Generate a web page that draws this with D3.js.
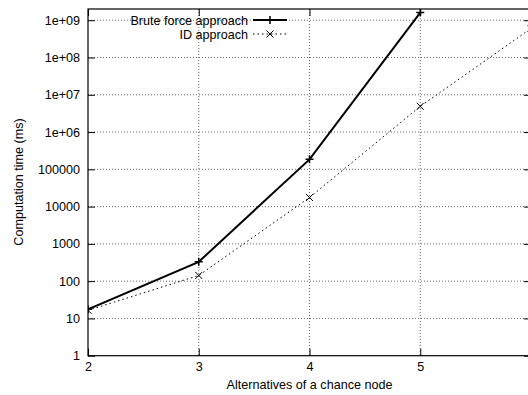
<!DOCTYPE html>
<html><head><meta charset="utf-8">
<script src="https://cdn.jsdelivr.net/npm/d3@7"></script>
<style>body{margin:0;background:#fff}svg{display:block}text{font-family:"Liberation Sans",Arial,sans-serif;fill:#000}</style>
</head><body><svg id="c" width="528" height="395"></svg>
<script>
const xValues = [2, 3, 4, 5, 6];
const bruteForce = [17.5, 330, 185000, 1.6e9, null];
const idApproach = [16.5, 142, 17500, 4.9e6, 6.0e8];
const yTickValues = [1, 10, 100, 1000, 10000, 100000, 1e6, 1e7, 1e8, 1e9];
const yTickLabels = ["1", "10", "100", "1000", "10000", "100000", "1e+06", "1e+07", "1e+08", "1e+09"];
const xTickValues = [2, 3, 4, 5];
const seriesNames = ["Brute force approach", "ID approach"];

const FS = 12.6;
const svg = d3.select("#c");
const L = 88, R = 531, T = 9, B = 355.7;
const x = d3.scaleLinear().domain([2, 6]).range([L, R]);
const y = d3.scaleLog().domain([1, 2e9]).range([B, T]);

svg.append("clipPath").attr("id","clip").append("rect").attr("x",L).attr("y",T).attr("width",R-L).attr("height",B-T);

// grid
const g = svg.append("g").attr("stroke","#444").attr("stroke-width",0.8).attr("stroke-dasharray","1,2");
yTickValues.slice(1).forEach(v => g.append("line").attr("x1",L).attr("x2",R).attr("y1",y(v)).attr("y2",y(v)));
xTickValues.slice(1).forEach(v => g.append("line").attr("x1",x(v)).attr("x2",x(v)).attr("y1",T).attr("y2",B));

// axes
const yAxis = d3.axisLeft(y).tickValues(yTickValues).tickFormat((d,i)=>yTickLabels[i]).tickSizeInner(-7).tickSizeOuter(0).tickPadding(8);
const ya = svg.append("g").attr("transform",`translate(${L},0)`).call(yAxis);
const yaR = svg.append("g").attr("transform",`translate(${R},0)`).call(d3.axisRight(y).tickValues(yTickValues).tickFormat("").tickSizeInner(-7).tickSizeOuter(0));
const xAxis = d3.axisBottom(x).tickValues(xTickValues).tickFormat(d3.format("d")).tickSizeInner(-7).tickSizeOuter(0).tickPadding(6);
const xa = svg.append("g").attr("transform",`translate(0,${B})`).call(xAxis);
const xaT = svg.append("g").attr("transform",`translate(0,${T})`).call(d3.axisTop(x).tickValues(xTickValues).tickFormat("").tickSizeInner(-7).tickSizeOuter(0));
[ya,yaR,xa,xaT].forEach(a=>{a.select(".domain").remove();a.selectAll("line").attr("stroke","#000");a.selectAll("text").attr("font-size",FS).attr("font-family","Liberation Sans, Arial, sans-serif");});
svg.append("rect").attr("x",L).attr("y",T).attr("width",R-L).attr("height",B-T).attr("fill","none").attr("stroke","#000").attr("stroke-width",1.2);

// labels
svg.append("text").attr("x",x(4)).attr("y",389).attr("text-anchor","middle").attr("font-size",FS).text("Alternatives of a chance node");
svg.append("text").attr("transform","translate(23,182) rotate(-90)").attr("text-anchor","middle").attr("font-size",FS).text("Computation time (ms)");

// series
const line = d3.line().defined(d=>d.v!=null).x(d=>x(d.x)).y(d=>y(d.v));
const bf = xValues.map((xv,i)=>({x:xv,v:bruteForce[i]}));
const id = xValues.map((xv,i)=>({x:xv,v:idApproach[i]}));
const plot = svg.append("g").attr("clip-path","url(#clip)");
plot.append("path").datum(bf).attr("d",line).attr("fill","none").attr("stroke","#000").attr("stroke-width",2);
plot.append("path").datum(id).attr("d",line).attr("fill","none").attr("stroke","#000").attr("stroke-width",1).attr("stroke-dasharray","1.5,3");
const plus = (gg,cx,cy)=>{gg.append("path").attr("d",`M${cx-4},${cy}H${cx+4}M${cx},${cy-4}V${cy+4}`).attr("stroke","#000").attr("stroke-width",1.5);};
const cross = (gg,cx,cy)=>{gg.append("path").attr("d",`M${cx-3.5},${cy-3.5}L${cx+3.5},${cy+3.5}M${cx-3.5},${cy+3.5}L${cx+3.5},${cy-3.5}`).attr("stroke","#000").attr("stroke-width",1);};
bf.filter(d=>d.v!=null).forEach(d=>plus(plot,x(d.x),y(d.v)));
id.filter(d=>d.v!=null).forEach(d=>cross(plot,x(d.x),y(d.v)));

// legend
const ly1 = 20, ly2 = 34;
svg.append("text").attr("x",248).attr("y",ly1+4.5).attr("text-anchor","end").attr("font-size",FS).text(seriesNames[0]);
svg.append("text").attr("x",248).attr("y",ly2+4.5).attr("text-anchor","end").attr("font-size",FS).text(seriesNames[1]);
svg.append("line").attr("x1",253).attr("x2",287).attr("y1",ly1).attr("y2",ly1).attr("stroke","#000").attr("stroke-width",2);
plus(svg,270,ly1);
svg.append("line").attr("x1",253).attr("x2",287).attr("y1",ly2).attr("y2",ly2).attr("stroke","#000").attr("stroke-width",1).attr("stroke-dasharray","1.5,3");
cross(svg,270,ly2);
</script></body></html>
